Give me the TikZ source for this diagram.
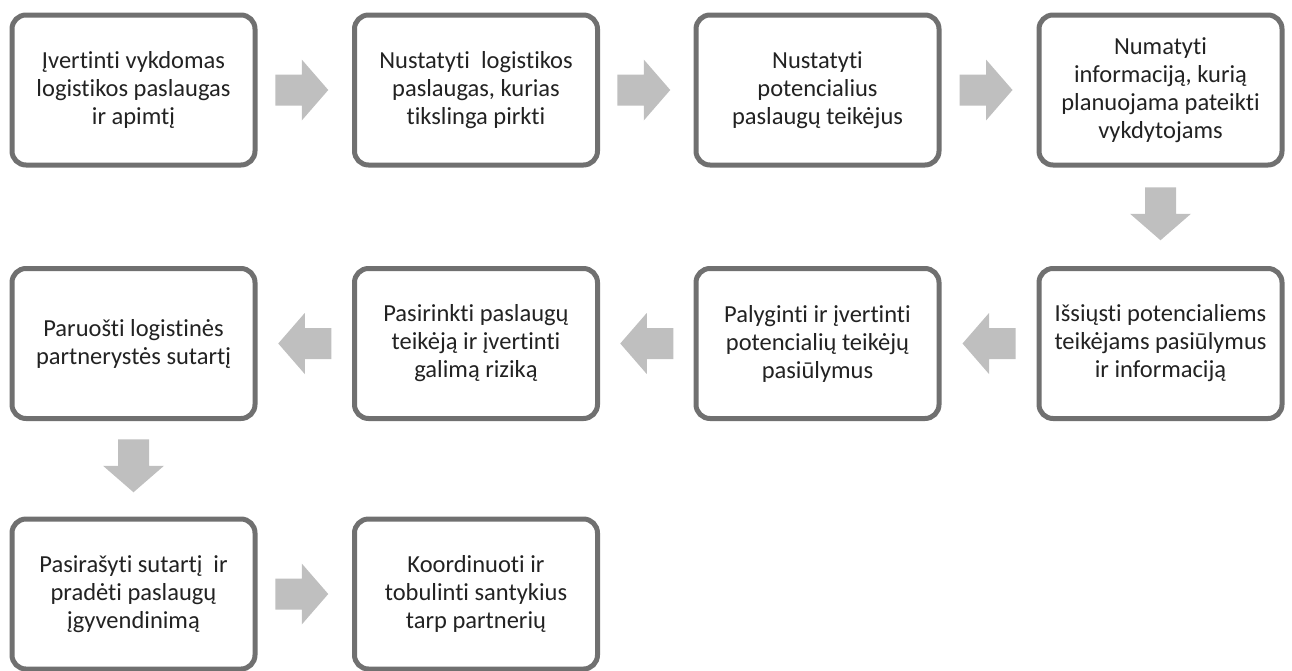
\documentclass[tikz,border=0pt]{standalone}
\usepackage{fontspec}
\setmainfont[Ligatures=NoCommon]{Carlito}
\usetikzlibrary{calc}
\definecolor{boxline}{HTML}{707070}
\definecolor{arrowgray}{HTML}{BFBFBF}
\definecolor{txt}{HTML}{222222}
\tikzset{
  stepbox/.style={draw=boxline, line width=5pt, rounded corners=14pt, fill=white,
    minimum width=243pt, minimum height=150pt, align=center, text=txt,
    font=\fontsize{24.5}{28}\selectfont, inner sep=0pt},
  blockarrow/.pic={\fill[arrowgray] (-26.5,-15.5) -- (0,-15.5) -- (0,-30.5) -- (26.5,0)
    -- (0,30.5) -- (0,15.5) -- (-26.5,15.5) -- cycle;}
}
\begin{document}
\begin{tikzpicture}[x={(1pt,0)}, y={(0,-1pt)}]
\useasboundingbox (0,0) rectangle (1292,670);
% first row, left to right
\node[stepbox] (b1) at (133.5,90)  {Įvertinti vykdomas\\logistikos paslaugas\\ir apimtį};
\node[stepbox] (b2) at (476,90)    {Nustatyti\ \ logistikos\\paslaugas, kurias\\tikslinga pirkti};
\node[stepbox] (b3) at (817.5,90)  {Nustatyti\\potencialius\\paslaugų teikėjus};
\node[stepbox] (b4) at (1160.5,90) {Numatyti\\informaciją, kurią\\planuojama pateikti\\vykdytojams};
% second row, right to left
\node[stepbox] (b5) at (1160.5,343.5) {Išsiųsti potencialiems\\teikėjams pasiūlymus\\ir informaciją};
\node[stepbox] (b6) at (817.5,343.5)  {Palyginti ir įvertinti\\potencialių teikėjų\\pasiūlymus};
\node[stepbox] (b7) at (476,343.5)    {Pasirinkti paslaugų\\teikėją ir įvertinti\\galimą riziką};
\node[stepbox] (b8) at (133.5,343.5)  {Paruošti logistinės\\partnerystės sutartį};
% third row
\node[stepbox] (b9)  at (133.5,594) {Pasirašyti sutartį\ \ ir\\pradėti paslaugų\\įgyvendinimą};
\node[stepbox] (b10) at (476,594)   {Koordinuoti ir\\tobulinti santykius\\tarp partnerių};
% block arrows between consecutive steps
\pic at ($(b1.east)!0.5!(b2.west)+(-3,0)$) {blockarrow};
\pic at ($(b2.east)!0.5!(b3.west)+(-3,0)$) {blockarrow};
\pic at ($(b3.east)!0.5!(b4.west)+(-3,0)$) {blockarrow};
\pic[rotate=-90] at ($(b4.south)!0.5!(b5.north)+(0,-3)$) {blockarrow};
\pic[rotate=180] at ($(b5.west)!0.5!(b6.east)$) {blockarrow};
\pic[rotate=180] at ($(b6.west)!0.5!(b7.east)$) {blockarrow};
\pic[rotate=180] at ($(b7.west)!0.5!(b8.east)$) {blockarrow};
\pic[rotate=-90] at ($(b8.south)!0.5!(b9.north)+(0,-3)$) {blockarrow};
\pic at ($(b9.east)!0.5!(b10.west)+(-3,0)$) {blockarrow};
\end{tikzpicture}
\end{document}
